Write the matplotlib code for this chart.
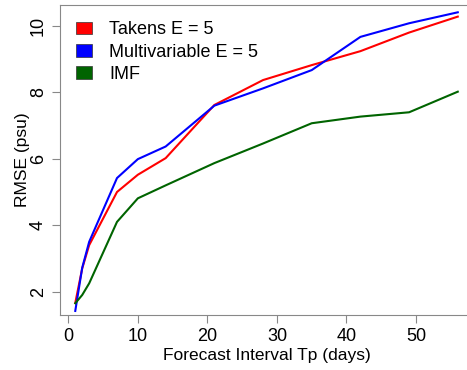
import numpy as np
import matplotlib
matplotlib.use('Agg')
import matplotlib.pyplot as plt
from matplotlib.patches import Patch

plt.rcParams['font.family'] = ['Liberation Sans', 'DejaVu Sans']

tp = [1, 2, 3, 7, 10, 14, 21, 28, 35, 42, 49, 56]
takens = [1.66, 2.70, 3.40, 5.00, 5.52, 6.02, 7.62, 8.37, 8.82, 9.24, 9.80, 10.28]
multi = [1.42, 2.72, 3.50, 5.42, 5.99, 6.37, 7.60, 8.12, 8.67, 9.67, 10.08, 10.41]
imf = [1.65, 1.90, 2.25, 4.10, 4.81, 5.20, 5.87, 6.46, 7.07, 7.27, 7.40, 8.02]

names = ['Takens E = 5', 'Multivariable E = 5', 'IMF']
colors = ['red', 'blue', '#006400']

fig = plt.figure(figsize=(4.67, 3.7), dpi=100)
ax = fig.add_axes([0.129, 0.148, 0.884, 0.8385])

for y, c in zip([takens, multi, imf], colors):
    ax.plot(tp, y, color=c, lw=1.5)

ax.set_xlim(-1.16, 58.2)
ax.set_ylim(1.29, 10.63)
ax.set_xticks([0, 10, 20, 30, 40, 50])
ax.set_yticks([2, 4, 6, 8, 10])
for s in ax.spines.values():
    s.set_color('#888888')
ax.tick_params(colors='#888888', labelcolor='black', labelsize=13, length=6)
for lab in ax.get_yticklabels():
    lab.set_rotation(90)
    lab.set_va('center')

ax.set_xlabel('Forecast Interval Tp (days)', fontsize=12.5, labelpad=2)
ax.set_ylabel('RMSE (psu)', fontsize=12.5, labelpad=0)

handles = [Patch(facecolor=c, edgecolor='#333333', lw=0.5) for c in colors]
ax.legend(handles, names, loc='upper left', frameon=False, fontsize=13,
          handlelength=0.85, handleheight=0.7, handletextpad=0.95,
          labelspacing=0.3, borderaxespad=0.4, borderpad=0.5)

fig.savefig('out.png', dpi=100)
